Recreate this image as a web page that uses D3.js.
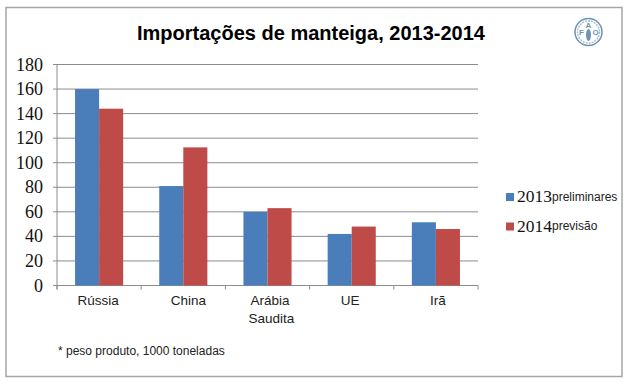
<!DOCTYPE html>
<html><head><meta charset="utf-8">
<script src="https://cdn.jsdelivr.net/npm/d3@7/dist/d3.min.js"></script>
<style>html,body{margin:0;padding:0;background:#fff}svg{display:block}</style>
</head><body><svg id="c" width="629" height="386"></svg>
<script>
const categories = ["Rússia","China","Arábia Saudita","UE","Irã"];
const values2013 = [160,81,60,42,51.5];
const values2014 = [144,112.5,63,48,46];
const yTicks = [0,20,40,60,80,100,120,140,160,180];
const seriesNames = [["2013","preliminares"],["2014","previsão"]];
const seriesColors = ["#4a7ebb","#be4b48"];
const titleText = "Importações de manteiga, 2013-2014";
const noteText = "* peso produto, 1000 toneladas";

const svg = d3.select("#c");
const sans = "Liberation Sans, Arial, sans-serif", serif = "Liberation Serif, Times New Roman, serif";
svg.append("rect").attr("x",6).attr("y",7.5).attr("width",616).attr("height",369)
  .attr("fill","#fff").attr("stroke","#a6a6a6").attr("stroke-width",1.5);

const m = {l:57,r:478,t:64.5,b:285.5};
const x = d3.scaleBand().domain(categories).range([m.l,m.r]).paddingInner(0).paddingOuter(0);
const y = d3.scaleLinear().domain([0,180]).range([m.b,m.t]);
const inner = d3.scaleBand().domain([0,1]).range([0,x.bandwidth()]).paddingInner(0).paddingOuter(0.75);

svg.append("g").selectAll("line").data(yTicks).join("line")
  .attr("x1",m.l-4).attr("x2",m.r).attr("y1",d=>y(d)).attr("y2",d=>y(d))
  .attr("stroke","#8c8c8c").attr("stroke-width",1);
svg.append("line").attr("x1",m.l).attr("x2",m.l).attr("y1",m.t).attr("y2",m.b+4).attr("stroke","#8c8c8c");
const xt = [...categories.map(c=>x(c)), m.r];
svg.append("g").selectAll("line").data(xt).join("line")
  .attr("x1",d=>d).attr("x2",d=>d).attr("y1",m.b).attr("y2",m.b+4).attr("stroke","#8c8c8c");

[values2013,values2014].forEach((vals,i)=>{
  svg.append("g").selectAll("rect").data(vals).join("rect")
    .attr("x",(d,k)=>x(categories[k])+inner(i)).attr("width",inner.bandwidth())
    .attr("y",d=>y(d)).attr("height",d=>y(0)-y(d)).attr("fill",seriesColors[i]);
});

svg.append("g").selectAll("text").data(yTicks).join("text")
  .attr("x",43).attr("y",d=>y(d)+6).attr("text-anchor","end")
  .attr("font-family",serif).attr("font-size",18).attr("fill","#111").text(d=>d);

const labelShift = [[-1],[5],[2.5,4],[-1.5],[2]];
categories.forEach((c,k)=>{
  const words = c.split(" ");
  words.forEach((w,i)=>{
    svg.append("text").attr("x",x(c)+x.bandwidth()/2+labelShift[k][i]).attr("y",305+i*18)
      .attr("text-anchor","middle").attr("font-family",sans).attr("font-size",13.5).attr("fill","#222").text(w);
  });
});

svg.append("text").attr("x",311).attr("y",40).attr("text-anchor","middle")
  .attr("font-family",sans).attr("font-weight","bold").attr("font-size",20).attr("fill","#000").text(titleText);
svg.append("text").attr("x",58).attr("y",355).attr("font-family",sans).attr("font-size",12).attr("fill","#222").text(noteText);

seriesNames.forEach((s,i)=>{
  const cy = 197+i*29.5;
  svg.append("rect").attr("x",506).attr("y",cy-4).attr("width",8).attr("height",8).attr("fill",seriesColors[i]);
  const t = svg.append("text").attr("x",517).attr("y",cy+5);
  t.append("tspan").attr("font-family",serif).attr("font-size",17.5).attr("fill","#111").text(s[0]);
  t.append("tspan").attr("font-family",sans).attr("font-size",12).attr("fill","#222").attr("dy",-1.5).text(s[1]);
});

const logo = svg.append("g").attr("transform","translate(588.5,32)").attr("fill","#6f93b5");
logo.append("circle").attr("r",13.5).attr("fill","#fff").attr("stroke","#6f93b5").attr("stroke-width",1.5);
logo.append("circle").attr("r",11).attr("fill","none").attr("stroke","#a9c0d4").attr("stroke-width",1.5).attr("stroke-dasharray","2 1");
[["F",-7,3],["A",0,-4],["O",7,3]].forEach(([l,dx,dy])=>logo.append("text").attr("x",dx).attr("y",dy)
  .attr("text-anchor","middle").attr("font-family",sans).attr("font-weight","bold").attr("font-size",8).text(l));
logo.append("ellipse").attr("cy",3).attr("rx",2.5).attr("ry",6);
</script></body></html>
